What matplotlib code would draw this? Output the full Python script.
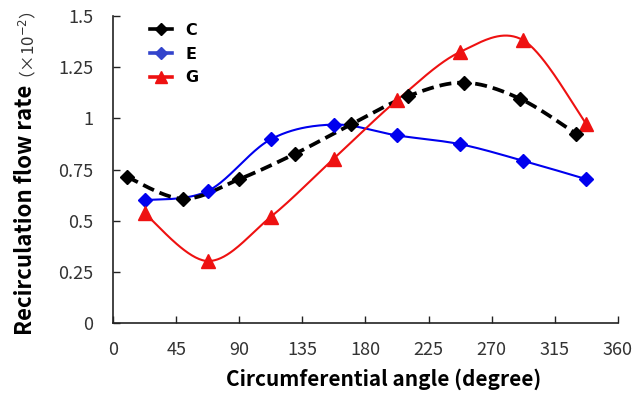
import numpy as np
import matplotlib
matplotlib.use("Agg")
import matplotlib.pyplot as plt

plt.rcParams['font.family'] = ['Noto Sans CJK SC', 'DejaVu Sans']

# Data
c_x = [10, 50, 90, 130, 170, 210, 250, 290, 330]
c_y = [0.714, 0.607, 0.703, 0.828, 0.972, 1.108, 1.175, 1.097, 0.926]
e_x = [22.5, 67.5, 112.5, 157.5, 202.5, 247.5, 292.5, 337.5]
e_y = [0.600, 0.645, 0.898, 0.970, 0.917, 0.874, 0.793, 0.703]
g_x = [22.5, 67.5, 112.5, 157.5, 202.5, 247.5, 292.5, 337.5]
g_y = [0.536, 0.303, 0.519, 0.804, 1.089, 1.325, 1.382, 0.972]
x_ticks = [0, 45, 90, 135, 180, 225, 270, 315, 360]
y_ticks = [0, 0.25, 0.5, 0.75, 1, 1.25, 1.5]
y_ticklabels = ['0', '0.25', '0.5', '0.75', '1', '1.25', '1.5']


def smooth(xs, ys, n=40):
    p = np.column_stack([xs, ys]).astype(float)
    pts = []
    for i in range(len(p) - 1):
        p0 = p[i - 1] if i > 0 else p[i]
        p1 = p[i]
        p2 = p[i + 1]
        p3 = p[i + 2] if i + 2 < len(p) else p[i + 1]
        c1 = p1 + (p2 - p0) / 6
        c2 = p2 - (p3 - p1) / 6
        t = np.linspace(0, 1, n)[:, None]
        seg = ((1 - t) ** 3) * p1 + 3 * ((1 - t) ** 2) * t * c1 + 3 * (1 - t) * t ** 2 * c2 + t ** 3 * p2
        pts.append(seg if i == 0 else seg[1:])
    s = np.vstack(pts)
    return s[:, 0], s[:, 1]


fig = plt.figure(figsize=(6.44, 3.93), dpi=100)
ax = fig.add_axes([0.1755, 0.178, 0.784, 0.781])

sx, sy = smooth(c_x, c_y)
ax.plot(sx, sy, color='black', lw=2.7, ls=(0, (3.2, 1.6)), zorder=3)
sx, sy = smooth(e_x, e_y)
ax.plot(sx, sy, color='#0000ee', lw=1.5, zorder=2)
sx, sy = smooth(g_x, g_y)
ax.plot(sx, sy, color='#ee1111', lw=1.5, zorder=2)

ax.plot(e_x, e_y, ls='none', marker='D', ms=7.5, color='#0000ee', zorder=4)
ax.plot(g_x, g_y, ls='none', marker='^', ms=10, color='#ee1111', zorder=4)
ax.plot(c_x, c_y, ls='none', marker='D', ms=7.5, color='black', zorder=5)

# legend proxies
hC, = ax.plot([], [], color='black', lw=2.6, marker='D', ms=6)
hE, = ax.plot([], [], color='#3344cc', lw=2.6, marker='D', ms=6)
hG, = ax.plot([], [], color='#ee1111', lw=2.6, marker='^', ms=8)
leg = ax.legend([hC, hE, hG], ['C', 'E', 'G'], loc='upper left',
                bbox_to_anchor=(0.045, 1.025), frameon=False, handlelength=1.4,
                handletextpad=0.8, labelspacing=0.55,
                prop={'weight': 'bold', 'size': 11.5, 'family': ['DejaVu Sans']})

ax.set_xlim(0, 360)
ax.set_ylim(0, 1.5)
ax.set_xticks(x_ticks)
ax.set_yticks(y_ticks)
ax.set_yticklabels(y_ticklabels)
for s in ['top', 'right']:
    ax.spines[s].set_visible(False)
for s in ['left', 'bottom']:
    ax.spines[s].set_linewidth(1.2)
    ax.spines[s].set_color('#222222')
ax.tick_params(direction='in', length=5, width=1, labelsize=13, colors='#222222')
ax.tick_params(axis='y', pad=14)
ax.tick_params(axis='x', pad=13)
for lab in ax.get_xticklabels() + ax.get_yticklabels():
    lab.set_color('#333333')

fig.text(0.595, 0.035, 'Circumferential angle (degree)', fontsize=15,
         fontweight='bold', ha='center', va='center')
fig.text(0.039, 0.466, 'Recirculation flow rate', rotation=90, fontsize=16,
         fontweight='bold', ha='center', va='center')
fig.text(0.043, 0.875, '（×10$^{-2}$）', rotation=90, fontsize=12,
         ha='center', va='center', color='#333333')

fig.savefig('out.png', dpi=100)
